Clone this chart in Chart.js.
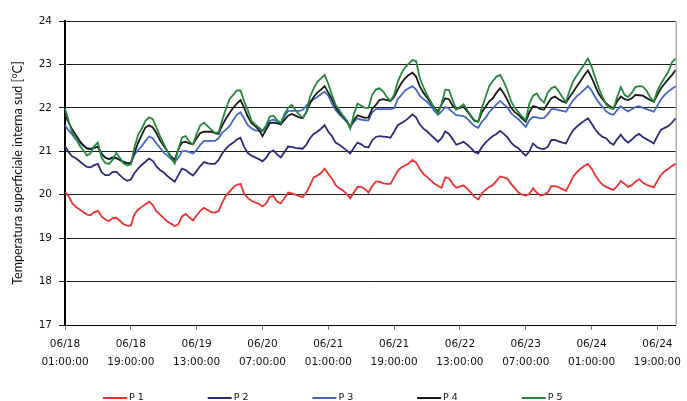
<!DOCTYPE html>
<html>
<head>
<meta charset="utf-8">
<script src="https://cdn.jsdelivr.net/npm/chart.js@4.4.0/dist/chart.umd.min.js"></script>
<style>
  html, body { margin: 0; padding: 0; background: #fff; }
</style>
</head>
<body>
<canvas id="chart1" width="687" height="401"></canvas>
<script>
// hourly readings, first one at 06/18 01:00:00
const seriesNames = ["P 1", "P 2", "P 3", "P 4", "P 5"];
const tickDates = ["06/18", "06/18", "06/19", "06/20", "06/21", "06/21", "06/22", "06/23", "06/24", "06/24"];
const tickTimes = ["01:00:00", "19:00:00", "13:00:00", "07:00:00", "01:00:00", "19:00:00", "13:00:00", "07:00:00", "01:00:00", "19:00:00"];
const yTicks = [17, 18, 19, 20, 21, 22, 23, 24];

const p1 = [
  20.06, 19.97, 19.8, 19.72, 19.66, 19.6, 19.54, 19.53, 19.6, 19.63,
  19.5, 19.43, 19.39, 19.46, 19.47, 19.4, 19.32, 19.29, 19.29, 19.55,
  19.66, 19.72, 19.78, 19.84, 19.76, 19.62, 19.54, 19.46, 19.38, 19.33,
  19.28, 19.32, 19.5, 19.56, 19.48, 19.41, 19.52, 19.63, 19.7, 19.65,
  19.6, 19.59, 19.62, 19.82, 19.98, 20.07, 20.17, 20.23, 20.25, 20.02,
  19.92, 19.86, 19.82, 19.79, 19.73, 19.8, 19.95, 19.97, 19.84, 19.8,
  19.92, 20.05, 20.03, 20.0, 19.97, 19.95, 20.05, 20.22, 20.4, 20.44,
  20.5, 20.6, 20.48, 20.37, 20.22, 20.15, 20.1, 20.02, 19.92, 20.05,
  20.18, 20.18, 20.13, 20.05, 20.2, 20.3, 20.3, 20.26, 20.25, 20.25,
  20.4, 20.55, 20.63, 20.68, 20.72, 20.8, 20.74, 20.6, 20.48, 20.41,
  20.33, 20.26, 20.2, 20.16, 20.4, 20.38, 20.25, 20.16, 20.19, 20.21,
  20.14, 20.05, 19.95, 19.89, 20.03, 20.11, 20.18, 20.22, 20.32, 20.42,
  20.4, 20.37, 20.25, 20.15, 20.05, 20.0, 19.98, 20.02, 20.15, 20.05,
  19.98, 20.0, 20.05, 20.2, 20.2, 20.17, 20.13, 20.09, 20.25, 20.42,
  20.52, 20.6, 20.66, 20.71, 20.6, 20.45, 20.32, 20.23, 20.18, 20.14,
  20.11, 20.2, 20.32, 20.25, 20.18, 20.22, 20.3, 20.36, 20.28, 20.23,
  20.2, 20.17, 20.32, 20.46, 20.54, 20.6, 20.66, 20.71
];
const p2 = [
  21.12, 20.98, 20.88, 20.84, 20.77, 20.7, 20.64, 20.63, 20.68, 20.71,
  20.52, 20.45, 20.45, 20.52, 20.53, 20.45, 20.37, 20.32, 20.35, 20.5,
  20.6, 20.69, 20.76, 20.83, 20.78, 20.65, 20.57, 20.51, 20.43, 20.36,
  20.3, 20.45, 20.6, 20.57, 20.5, 20.44, 20.55, 20.66, 20.75, 20.72,
  20.71, 20.71, 20.8, 20.95, 21.06, 21.14, 21.2, 21.27, 21.31, 21.1,
  20.96, 20.9, 20.86, 20.82, 20.77, 20.85, 20.98, 21.02, 20.93, 20.86,
  20.98, 21.11, 21.1, 21.08, 21.07, 21.06, 21.15, 21.3, 21.4, 21.45,
  21.52, 21.6, 21.45, 21.35, 21.2, 21.15, 21.09, 21.02, 20.95, 21.08,
  21.2, 21.16, 21.1, 21.09, 21.25, 21.33, 21.35, 21.34, 21.33, 21.31,
  21.45, 21.6, 21.65, 21.7, 21.77, 21.85, 21.78, 21.62, 21.52, 21.46,
  21.38, 21.3, 21.22, 21.3, 21.46, 21.4, 21.28, 21.15, 21.18, 21.22,
  21.15, 21.08, 20.98, 20.95, 21.1, 21.2, 21.28, 21.35, 21.4, 21.47,
  21.4, 21.32, 21.2, 21.12, 21.07, 20.98, 20.9, 21.0, 21.18, 21.1,
  21.06, 21.05, 21.1, 21.26, 21.26, 21.23, 21.2, 21.18, 21.35, 21.49,
  21.57, 21.64, 21.7, 21.76, 21.64, 21.5, 21.4, 21.33, 21.3, 21.2,
  21.15, 21.28, 21.38, 21.27, 21.2, 21.27, 21.35, 21.4, 21.33, 21.28,
  21.23, 21.18, 21.35, 21.5, 21.54, 21.58, 21.66, 21.76
];
const p3 = [
  21.6, 21.48, 21.38, 21.27, 21.2, 21.13, 21.08, 21.06, 21.08, 21.1,
  20.95, 20.86, 20.82, 20.84, 20.84, 20.8, 20.76, 20.73, 20.72, 20.92,
  21.03, 21.12, 21.24, 21.34, 21.3, 21.18, 21.08, 20.97, 20.9, 20.82,
  20.76, 20.85, 21.0, 21.01, 20.98, 20.95, 21.03, 21.15, 21.24, 21.24,
  21.24, 21.24, 21.3, 21.43, 21.5, 21.58, 21.72, 21.84, 21.9, 21.75,
  21.6, 21.53, 21.48, 21.47, 21.46, 21.55, 21.7, 21.73, 21.68, 21.62,
  21.8, 21.93, 21.93, 21.93, 21.93, 21.95, 22.05, 22.15, 22.2, 22.25,
  22.32, 22.37, 22.28, 22.1, 21.95, 21.85, 21.77, 21.68, 21.57, 21.68,
  21.76, 21.73, 21.71, 21.71, 21.9, 21.97, 21.97, 21.97, 21.97, 21.97,
  21.99, 22.2, 22.3, 22.4, 22.45, 22.5, 22.42, 22.28, 22.2, 22.14,
  22.05, 21.93, 21.84, 21.92, 22.02, 21.98, 21.9, 21.83, 21.82, 21.81,
  21.75, 21.66, 21.58, 21.54, 21.68, 21.77, 21.9, 21.99, 22.08, 22.16,
  22.08, 22.01, 21.88, 21.8, 21.74, 21.65, 21.56, 21.72, 21.79, 21.78,
  21.76, 21.77, 21.85, 21.97, 21.97, 21.95, 21.93, 21.91, 22.05, 22.18,
  22.27, 22.34, 22.42, 22.5, 22.4, 22.25, 22.12, 22.02, 21.92, 21.86,
  21.84, 21.95, 22.04, 21.97, 21.92, 21.97, 22.02, 22.04, 22.0, 21.97,
  21.94, 21.91, 22.05, 22.2, 22.3, 22.38, 22.44, 22.5
];
const p4 = [
  21.84, 21.66, 21.5, 21.37, 21.24, 21.14, 21.06, 21.05, 21.08, 21.11,
  20.93, 20.85, 20.82, 20.86, 20.85, 20.8, 20.75, 20.72, 20.73, 20.97,
  21.2, 21.38, 21.55, 21.6, 21.55, 21.42, 21.25, 21.12, 21.0, 20.88,
  20.8, 21.05, 21.2, 21.22, 21.18, 21.16, 21.3, 21.42, 21.45, 21.45,
  21.45, 21.42, 21.4, 21.6, 21.75, 21.88, 22.0, 22.1, 22.18, 22.0,
  21.8, 21.65, 21.58, 21.5, 21.35, 21.5, 21.65, 21.66, 21.64, 21.62,
  21.72, 21.82, 21.86, 21.82, 21.78, 21.76, 21.9, 22.1, 22.25, 22.35,
  22.42, 22.5, 22.35, 22.2, 22.02, 21.9, 21.8, 21.7, 21.55, 21.72,
  21.83, 21.8, 21.77, 21.78, 21.98, 22.07, 22.18, 22.2, 22.18, 22.16,
  22.25, 22.42, 22.57, 22.68, 22.76, 22.81, 22.72, 22.5, 22.35, 22.24,
  22.12, 22.0, 21.92, 22.08, 22.22, 22.2, 22.05, 21.97, 22.0, 22.02,
  21.92, 21.8, 21.7, 21.68, 21.9, 22.02, 22.15, 22.22, 22.35, 22.45,
  22.33, 22.18, 22.0, 21.9, 21.84, 21.75, 21.68, 21.9, 22.04, 22.02,
  21.97, 21.96, 22.1, 22.22, 22.26, 22.2, 22.15, 22.12, 22.25, 22.37,
  22.5, 22.62, 22.75, 22.86, 22.7, 22.5, 22.32, 22.2, 22.1, 22.03,
  21.99, 22.15, 22.26, 22.2, 22.18, 22.22, 22.3, 22.29, 22.28, 22.23,
  22.18, 22.14, 22.3, 22.45, 22.56, 22.66, 22.76, 22.87
];
const p5 = [
  21.99, 21.7, 21.42, 21.3, 21.13, 21.03, 20.9, 20.95, 21.12, 21.2,
  20.85, 20.73, 20.71, 20.8, 20.96, 20.85, 20.72, 20.67, 20.7, 21.1,
  21.38, 21.52, 21.7, 21.78, 21.74, 21.55, 21.35, 21.17, 21.0, 20.85,
  20.72, 21.05, 21.32, 21.35, 21.22, 21.16, 21.4, 21.6, 21.66, 21.58,
  21.5, 21.43, 21.43, 21.72, 21.98, 22.2, 22.3, 22.4, 22.4, 22.15,
  21.95, 21.7, 21.62, 21.55, 21.47, 21.6, 21.8, 21.82, 21.72, 21.65,
  21.85, 22.0, 22.07, 21.95, 21.85, 21.77, 21.9, 22.25, 22.45, 22.6,
  22.68, 22.76, 22.55, 22.3, 22.07, 21.95, 21.82, 21.72, 21.52, 21.85,
  22.1, 22.05, 22.0, 22.0, 22.3, 22.42, 22.45, 22.38, 22.25, 22.16,
  22.3, 22.6, 22.8, 22.93, 23.02, 23.1, 23.08, 22.7, 22.48, 22.3,
  22.15, 22.0, 21.86, 22.1, 22.42, 22.41, 22.18, 21.96, 22.02, 22.08,
  21.95, 21.82, 21.72, 21.68, 22.0, 22.25, 22.5, 22.62, 22.72, 22.76,
  22.6, 22.4, 22.15, 22.0, 21.9, 21.8, 21.72, 22.1, 22.28, 22.33,
  22.2, 22.12, 22.35, 22.45, 22.49, 22.38, 22.25, 22.13, 22.4, 22.62,
  22.75, 22.88, 23.0, 23.14, 22.95, 22.7, 22.45, 22.25, 22.08, 22.0,
  21.97, 22.25, 22.48, 22.3, 22.25, 22.35, 22.48, 22.5, 22.49, 22.4,
  22.25, 22.14, 22.4, 22.56, 22.7, 22.83, 23.05, 23.14
];

const TICK_EVERY = 18; // one labelled tick every 18 hours
const hours = p1.map((_, i) => i);
const seriesValues = [p1, p2, p3, p4, p5];
const lineColors = ["#ee3030", "#2d2b7c", "#4466c4", "#1a1a1a", "#24883f"];

const bottomLegend = {
    id: 'bottomLegend',
    afterDraw: (chart) => {
        const { ctx, data, chartArea } = chart;
        ctx.save();
        // thin frame on the right side of the plot
        ctx.strokeStyle = "#8a8a8a";
        ctx.lineWidth = 1;
        ctx.beginPath();
        ctx.moveTo(chartArea.right + 0.5, chartArea.top);
        ctx.lineTo(chartArea.right + 0.5, chartArea.bottom);
        ctx.stroke();

        ctx.font = '9.5px "DejaVu Sans"';
        ctx.textAlign = "left";
        ctx.textBaseline = "alphabetic";
        data.datasets.forEach((ds, i) => {
            const x = 103 + i * 104.7;
            ctx.strokeStyle = ds.borderColor;
            ctx.lineWidth = 2;
            ctx.beginPath();
            ctx.moveTo(x, 398);
            ctx.lineTo(x + 24, 398);
            ctx.stroke();
            ctx.fillStyle = "#111";
            ctx.fillText(ds.label, x + 26, 399.5);
        });
        ctx.restore();
    }
};

const ctx = document.getElementById("chart1").getContext("2d");
new Chart(ctx, {
    type: 'line',
    data: {
        labels: hours,
        datasets: seriesValues.map((vals, i) => ({
            label: seriesNames[i],
            data: vals,
            borderColor: lineColors[i],
            borderWidth: 1.8,
            pointRadius: 0,
            tension: 0,
            fill: false,
            order: seriesValues.length - i,
        })),
    },
    options: {
        responsive: false,
        animation: false,
        layout: { padding: { top: 21, right: 1, bottom: 0, left: 0 } },
        plugins: {
            legend: { display: false },
            tooltip: { enabled: false },
        },
        scales: {
            x: {
                type: 'category',
                afterFit: (scale) => { scale.height = 76; },
                border: { color: '#000', width: 1 },
                grid: { drawOnChartArea: false, tickLength: 5, color: '#777' },
                ticks: {
                    autoSkip: false,
                    maxRotation: 0,
                    minRotation: 0,
                    padding: 6,
                    color: '#111',
                    font: { family: '"DejaVu Sans"', size: 10.5, lineHeight: 1.65 },
                    callback: (val, i) => {
                        if (i % TICK_EVERY !== 0) return null;
                        const k = i / TICK_EVERY;
                        return [tickDates[k], tickTimes[k]];
                    },
                },
            },
            y: {
                min: yTicks[0],
                max: yTicks[yTicks.length - 1],
                afterFit: (scale) => { scale.width = 65; },
                afterBuildTicks: (scale) => { scale.ticks = yTicks.map(v => ({ value: v })); },
                border: { color: '#000', width: 2 },
                grid: { color: '#1e1e1e', lineWidth: 1, tickLength: 6 },
                ticks: {
                    padding: 7,
                    color: '#111',
                    font: { family: '"DejaVu Sans"', size: 10.5 },
                },
                title: {
                    display: true,
                    text: 'Temperatura superficiale interna sud [°C]',
                    color: '#111',
                    font: { family: 'Lato', size: 12.5 },
                    padding: { top: 10.5, bottom: 0 },
                },
            },
        },
    },
    plugins: [bottomLegend],
});
</script>
</body>
</html>
